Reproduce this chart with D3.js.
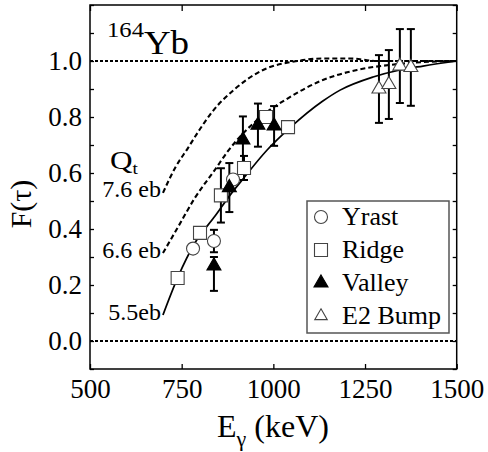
<!DOCTYPE html>
<html>
<head>
<meta charset="utf-8">
<script src="https://cdn.jsdelivr.net/npm/d3@7"></script>
<style>
  body { margin: 0; background: #fff; }
</style>
</head>
<body>
<svg id="chart" width="488" height="452"></svg>
<script>
// measured points: [E (keV), F, err down, err up]
var yrast  = [[781, 0.33, 0, 0], [838, 0.357, 0.04, 0.04], [890, 0.577, 0, 0]];
var ridge  = [[739, 0.225, 0, 0], [800, 0.386, 0, 0], [857, 0.52, 0.097, 0.097],
              [920, 0.618, 0.043, 0.043], [980, 0.80, 0.02, 0.02], [1040, 0.764, 0, 0]];
var valley = [[838, 0.268, 0.089, 0.032], [880, 0.548, 0.0875, 0.0875], [917, 0.718, 0.084, 0.084],
              [958, 0.771, 0.077, 0.077], [1002, 0.768, 0.071, 0.071]];
var e2bump = [[1288, 0.90, 0.121, 0.121], [1315, 0.916, 0.123, 0.123],
              [1345, 0.982, 0.132, 0.132], [1375, 0.977, 0.137, 0.137]];

// model curves for the three Qt values
var q55 = [[699, 0.093], [740, 0.229], [786, 0.35], [841, 0.446], [882, 0.521], [915, 0.575],
           [983, 0.682], [1045, 0.761], [1135, 0.857], [1182, 0.896], [1272, 0.943],
           [1345, 0.968], [1408, 0.982], [1500, 1.0]];
var q66 = [[699, 0.314], [740, 0.407], [786, 0.511], [841, 0.612], [876, 0.678], [901, 0.718],
           [972, 0.807], [1045, 0.871], [1135, 0.932], [1228, 0.968], [1318, 0.986],
           [1408, 0.996], [1500, 1.0]];
var q76 = [[699, 0.529], [732, 0.618], [767, 0.689], [800, 0.757], [833, 0.818], [895, 0.9],
           [972, 0.968], [1065, 1.0], [1135, 1.009], [1209, 1.009], [1283, 1.0], [1500, 1.0]];

var xTicks = [500, 750, 1000, 1250, 1500];
var yTicks = [-0.1, 0, 0.1, 0.2, 0.3, 0.4, 0.5, 0.6, 0.7, 0.8, 0.9, 1.0, 1.1, 1.2];
var yLabels = [0, 0.2, 0.4, 0.6, 0.8, 1.0];
var legendNames = ["Yrast", "Ridge", "Valley", "E2 Bump"];

var SERIF = "'Liberation Serif', 'Times New Roman', Times, serif";

var svg = d3.select("#chart").attr("font-family", SERIF);
var x = d3.scaleLinear().domain([500, 1500]).range([90, 456.7]);
var y = d3.scaleLinear().domain([-0.1, 1.2]).range([369, 5]);

// axes, ticks point inward
svg.append("g").attr("transform", "translate(0,369)")
  .call(d3.axisBottom(x).tickValues(xTicks).tickSizeInner(-5).tickSizeOuter(0).tickPadding(10)
    .tickFormat(d3.format("d")))
  .call(function (g) { g.select(".domain").remove(); });
svg.append("g").attr("transform", "translate(0,5)")
  .call(d3.axisTop(x).tickValues(xTicks).tickSizeInner(-6).tickSizeOuter(0).tickFormat(""))
  .call(function (g) { g.select(".domain").remove(); });
svg.append("g").attr("transform", "translate(90,0)")
  .call(d3.axisLeft(y).tickValues(yTicks).tickSizeInner(-4).tickSizeOuter(0).tickPadding(8)
    .tickFormat(function (d) {
      return yLabels.some(function (v) { return Math.abs(v - d) < 1e-6; }) ? d3.format(".1f")(d) : "";
    }))
  .call(function (g) { g.select(".domain").remove(); });
svg.append("g").attr("transform", "translate(456.7,0)")
  .call(d3.axisRight(y).tickValues(yTicks).tickSizeInner(-4).tickSizeOuter(0).tickFormat(""))
  .call(function (g) { g.select(".domain").remove(); });
svg.selectAll(".tick line").attr("stroke", "#000").attr("stroke-width", 1.3);
svg.selectAll(".tick text").attr("font-family", SERIF).attr("font-size", 27).attr("fill", "#000");

svg.append("rect")
  .attr("x", x(500)).attr("y", y(1.2))
  .attr("width", x(1500) - x(500)).attr("height", y(-0.1) - y(1.2))
  .attr("fill", "none").attr("stroke", "#000").attr("stroke-width", 1.5);

// reference lines at 0 and 1
[0, 1].forEach(function (v) {
  svg.append("line")
    .attr("x1", x(500)).attr("x2", x(1500)).attr("y1", y(v)).attr("y2", y(v))
    .attr("stroke", "#000").attr("stroke-width", 1.8).attr("stroke-dasharray", "3,2");
});

var line = d3.line()
  .x(function (d) { return x(d[0]); })
  .y(function (d) { return y(d[1]); })
  .curve(d3.curveMonotoneX);

svg.append("path").datum(q55).attr("d", line)
  .attr("fill", "none").attr("stroke", "#000").attr("stroke-width", 1.7);
svg.append("path").datum(q66).attr("d", line)
  .attr("fill", "none").attr("stroke", "#000").attr("stroke-width", 2.1).attr("stroke-dasharray", "5,3");
svg.append("path").datum(q76).attr("d", line)
  .attr("fill", "none").attr("stroke", "#000").attr("stroke-width", 2.1).attr("stroke-dasharray", "5,3");

// error bars
function errorBars(data) {
  var g = svg.append("g").attr("stroke", "#000").attr("stroke-width", 2);
  data.filter(function (d) { return d[2] > 0 || d[3] > 0; }).forEach(function (d) {
    var cx = x(d[0]), lo = y(d[1] - d[2]), hi = y(d[1] + d[3]);
    g.append("line").attr("x1", cx).attr("x2", cx).attr("y1", lo).attr("y2", hi);
    g.append("line").attr("x1", cx - 4).attr("x2", cx + 4).attr("y1", lo).attr("y2", lo);
    g.append("line").attr("x1", cx - 4).attr("x2", cx + 4).attr("y1", hi).attr("y2", hi);
  });
}
[ridge, yrast, valley, e2bump].forEach(errorBars);

var shapes = [
  { type: d3.symbolCircle, size: 133, fill: "#fff" },
  { type: d3.symbolSquare, size: 169, fill: "#fff" },
  { type: d3.symbolTriangle, size: 85, fill: "#000" },
  { type: d3.symbolTriangle, size: 85, fill: "#fff" }
];

function markers(data, s) {
  svg.append("g").selectAll("path").data(data).enter().append("path")
    .attr("transform", function (d) { return "translate(" + x(d[0]) + "," + y(d[1]) + ")"; })
    .attr("d", d3.symbol().type(s.type).size(s.size))
    .attr("fill", s.fill).attr("stroke", s.fill === "#000" ? "#000" : "#444").attr("stroke-width", 1.1);
}
markers(ridge, shapes[1]);
markers(yrast, shapes[0]);
markers(valley, shapes[2]);
markers(e2bump, shapes[3]);

// annotations (the original lettering is a bit wider than Times, so stretch it)
var t1 = svg.append("text").attr("transform", "translate(107,54) scale(1.12,1)");
t1.append("tspan").attr("x", 0).attr("y", -17).attr("font-size", 22).text("164");
t1.append("tspan").attr("y", 0).attr("font-size", 33).text("Yb");

var t2 = svg.append("text").attr("transform", "translate(110,169) scale(1.2,1)").attr("font-size", 26);
t2.append("tspan").attr("x", 0).attr("y", 0).text("Q");
t2.append("tspan").attr("y", 5).attr("font-size", 16).text("t");

[["7.6 eb", 197], ["6.6 eb", 258], ["5.5eb", 320]].forEach(function (d) {
  svg.append("text").attr("x", 161).attr("y", d[1]).attr("text-anchor", "end")
    .attr("font-size", 24).text(d[0]);
});

// axis titles
var xt = svg.append("text").attr("x", 273).attr("y", 437).attr("text-anchor", "middle").attr("font-size", 32);
xt.append("tspan").text("E");
xt.append("tspan").attr("dy", 9).attr("font-size", 22).text("γ");
xt.append("tspan").attr("dy", -9).text(" (keV)");

svg.append("text").attr("transform", "translate(31,204) rotate(-90)")
  .attr("text-anchor", "middle").attr("font-size", 30).text("F(τ)");

// legend
var lg = svg.append("g");
lg.append("rect").attr("x", 307).attr("y", 201).attr("width", 142).attr("height", 132)
  .attr("fill", "#fff").attr("stroke", "#555").attr("stroke-width", 1.5);
legendNames.forEach(function (name, i) {
  var cy = 217 + i * 33;
  lg.append("path").attr("transform", "translate(321," + cy + ")")
    .attr("d", d3.symbol().type(shapes[i].type).size(shapes[i].size * (i === 3 ? 0.8 : 1)))
    .attr("fill", shapes[i].fill).attr("stroke", shapes[i].fill === "#000" ? "#000" : "#444").attr("stroke-width", 1.1);
  lg.append("text").attr("x", 342).attr("y", cy + 8).attr("font-size", 26).text(name);
});
</script>
</body>
</html>
